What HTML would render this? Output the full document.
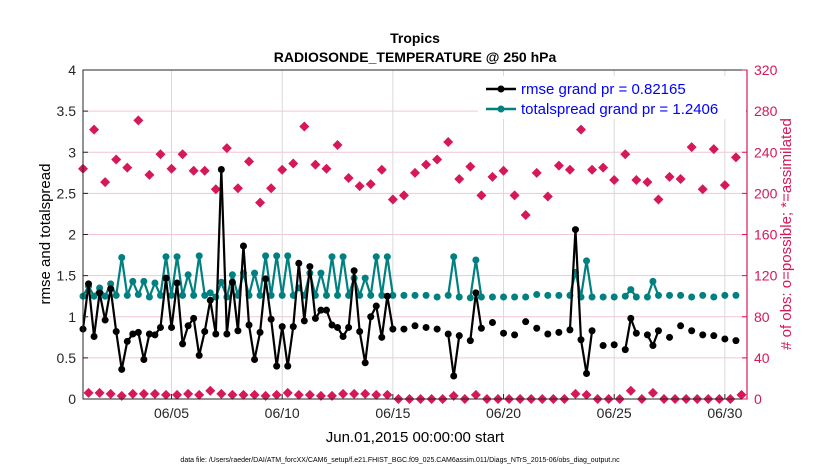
<!DOCTYPE html>
<html><head><meta charset="utf-8">
<style>
html,body{margin:0;padding:0;background:#fff;}
svg{display:block;font-family:"Liberation Sans",Arial,sans-serif;}
</style></head>
<body>
<svg id="chart" width="830" height="470" viewBox="0 0 830 470">
  <rect width="830" height="470" fill="#fff"/>
  <text x="415" y="43" text-anchor="middle" font-size="14" font-weight="bold">Tropics</text>
  <text x="415" y="62" text-anchor="middle" font-size="14" font-weight="bold">RADIOSONDE_TEMPERATURE @ 250 hPa</text>
  <g id="grid"></g>
  <g id="marks"></g>
  <g id="axes"></g>
  <text transform="translate(50,234) rotate(-90)" text-anchor="middle" font-size="15">rmse and totalspread</text>
  <text transform="translate(791,234) rotate(-90)" text-anchor="middle" font-size="15" fill="#d6175a"># of obs: o=possible; *=assimilated</text>
  <text x="415" y="442" text-anchor="middle" font-size="15">Jun.01,2015 00:00:00 start</text>
  <text x="400" y="462" text-anchor="middle" font-size="7">data file: /Users/raeder/DAI/ATM_forcXX/CAM6_setup/f.e21.FHIST_BGC.f09_025.CAM6assim.011/Diags_NTrS_2015-06/obs_diag_output.nc</text>
  <g id="legend">
    <rect x="478" y="76" width="268" height="43" fill="#fff"/>
    <line x1="486" y1="89" x2="516" y2="89" stroke="#000" stroke-width="2.5"/>
    <circle cx="501" cy="89" r="3.5" fill="#000"/>
    <text x="521" y="94" font-size="15" fill="#0000ff">rmse grand pr = 0.82165</text>
    <line x1="486" y1="109" x2="516" y2="109" stroke="#008080" stroke-width="2.5"/>
    <circle cx="501" cy="109" r="3.5" fill="#008080"/>
    <text x="521" y="114" font-size="15" fill="#0000ff">totalspread grand pr = 1.2406</text>
  </g>
</svg>
<script>
var N = null;
var rmse = [0.85,1.40,0.76,1.29,0.96,1.34,0.82,0.36,0.70,0.79,0.81,0.48,0.79,0.78,0.87,1.47,0.87,1.41,0.67,0.89,0.98,0.53,0.82,1.20,0.79,2.79,0.79,1.42,0.83,1.86,0.90,0.48,0.81,1.46,0.97,0.40,0.88,0.40,0.88,1.65,0.95,1.61,0.98,1.08,
1.08,0.90,0.87,0.76,0.87,1.56,0.82,0.44,1.00,1.13,0.75,1.25,0.85,N,0.85,N,0.89,N,0.87,N,0.85,N,0.79,0.28,0.77,N,0.71,1.29,0.86,N,0.93,N,0.80,N,0.78,N,0.94,N,0.86,N,
0.79,N,0.81,N,0.84,2.06,0.72,0.31,0.83,N,0.65,N,0.66,N,0.60,0.98,0.80,N,0.78,0.65,0.83,N,0.75,N,0.89,N,0.83,N,0.78,N,0.77,N,0.73,N,0.71,N];
var spread = [1.25,1.37,1.25,1.35,1.25,1.40,1.26,1.72,1.26,1.43,1.27,1.43,1.24,1.41,1.26,1.73,1.26,1.73,1.26,1.51,1.26,1.74,1.26,1.29,1.24,1.42,1.24,1.51,1.26,1.53,1.26,1.53,1.26,1.74,1.26,1.74,1.26,1.74,1.26,1.35,1.26,1.53,1.26,1.53,
1.26,1.73,1.26,1.73,1.26,1.47,1.26,1.47,1.26,1.73,1.26,1.73,1.26,N,1.26,N,1.26,N,1.26,N,1.24,N,1.26,1.73,1.24,N,1.23,1.69,1.24,N,1.24,N,1.24,N,1.24,N,1.24,N,1.27,N,
1.26,N,1.26,N,1.26,1.54,1.24,1.68,1.24,N,1.24,N,1.24,N,1.25,1.33,1.24,N,1.24,1.43,1.26,N,1.26,N,1.26,N,1.24,N,1.26,N,1.24,N,1.26,N,1.26,N];
var nAssim = [224,262,211,233,225,271,218,238,224,238,222,222,204,244,205,231,191,205,223,229,265,228,
224,247,215,207,209,223,194,198,220,228,233,250,214,226,198,216,222,198,179,220,
197,227,223,262,223,225,213,238,213,211,194,216,214,245,204,243,208,235];
var nLow = [6,6,5,3,5,5,5,4,4,5,4,8,5,4,4,4,3,4,6,4,4,
3,3,5,5,5,4,4,0,0,0,0,0,3,0,4,0,0,0,0,0,
0,0,0,5,4,0,0,0,8,0,6,0,0,0,0,0,0,0,4];
var xTickDays = [4,9,14,19,24,29];
var xTickLabels = ["06/05","06/10","06/15","06/20","06/25","06/30"];
var yTicks = [0,0.5,1,1.5,2,2.5,3,3.5,4];
var yTickLabels = ["0","0.5","1","1.5","2","2.5","3","3.5","4"];
var y2Ticks = [0,40,80,120,160,200,240,280,320];

var L=83, R=747, T=70, B=399;
function xs(d){ return L + d/30*(R-L); }
function ys(v){ return B - v/4*(B-T); }
function ys2(v){ return B - v/320*(B-T); }
var NS="http://www.w3.org/2000/svg";
function mk(tag, attrs, parent){ var e=document.createElementNS(NS,tag); for(var k in attrs) e.setAttribute(k,attrs[k]); parent.appendChild(e); return e; }
var grid=document.getElementById('grid'), marks=document.getElementById('marks'), axes=document.getElementById('axes');

mk('rect',{x:L,y:T,width:R-L,height:B-T,fill:'#fff'},grid);
yTicks.forEach(function(v){
  var g=mk('line',{x1:L,x2:R,y1:ys(v),y2:ys(v),stroke:'#f2c6d6','stroke-width':1},grid);
  
  
});
xTickDays.forEach(function(d){
  var g=mk('line',{x1:xs(d),x2:xs(d),y1:T,y2:B,stroke:'#d9d9d9','stroke-width':1},grid);
  
  
});

function series(vals, color, name){
  var grp=mk('g',{},marks);
  
  
  for(var i=1;i<vals.length;i++){
    if(vals[i]!==null && vals[i-1]!==null){
      var ln=mk('line',{x1:xs(0.25*(i-1)),y1:ys(vals[i-1]),x2:xs(0.25*i),y2:ys(vals[i]),stroke:color,'stroke-width':2.2},grp);
      
      
    }
  }
  for(var j=0;j<vals.length;j++){
    if(vals[j]===null) continue;
    var c=mk('circle',{cx:xs(0.25*j),cy:ys(vals[j]),r:3.5,fill:color},grp);
    
    
  }
}
function diamonds(vals, offset, name){
  var grp=mk('g',{},marks);
  
  
  for(var k=0;k<vals.length;k++){
    var cx=xs(0.5*k+offset), cy=ys2(vals[k]), s=5;
    var p=mk('polygon',{points:(cx)+','+(cy-s)+' '+(cx+s)+','+cy+' '+cx+','+(cy+s)+' '+(cx-s)+','+cy,fill:'#d6175a'},grp);
    
    
  }
}
diamonds(nAssim,0,'obs-assimilated');
diamonds(nLow,0.25,'obs-count-low');
series(spread,'#008080','totalspread');
series(rmse,'#000000','rmse');

var fr=mk('rect',{x:L,y:T,width:R-L,height:B-T,fill:'none',stroke:'#262626','stroke-width':1},axes);


var ra=mk('line',{x1:R,x2:R,y1:T,y2:B,stroke:'#d6175a','stroke-width':1.2},axes);


yTicks.forEach(function(v,i){
  var t=mk('text',{x:L-7,y:ys(v)+5,'text-anchor':'end','font-size':14,fill:'#262626'},axes);
  t.textContent=yTickLabels[i];
  
  
  mk('line',{x1:L,x2:L+5,y1:ys(v),y2:ys(v),stroke:'#262626'},axes);
});
y2Ticks.forEach(function(v){
  var t=mk('text',{x:R+7,y:ys2(v)+5,'font-size':14,fill:'#d6175a'},axes);
  t.textContent=String(v);
  
  
  mk('line',{x1:R-5,x2:R,y1:ys2(v),y2:ys2(v),stroke:'#d6175a'},axes);
});
xTickDays.forEach(function(d,i){
  var t=mk('text',{x:xs(d),y:418,'text-anchor':'middle','font-size':14,fill:'#262626'},axes);
  t.textContent=xTickLabels[i];
  
  
  mk('line',{x1:xs(d),x2:xs(d),y1:B,y2:B-5,stroke:'#262626'},axes);
});
</script>
</body></html>
